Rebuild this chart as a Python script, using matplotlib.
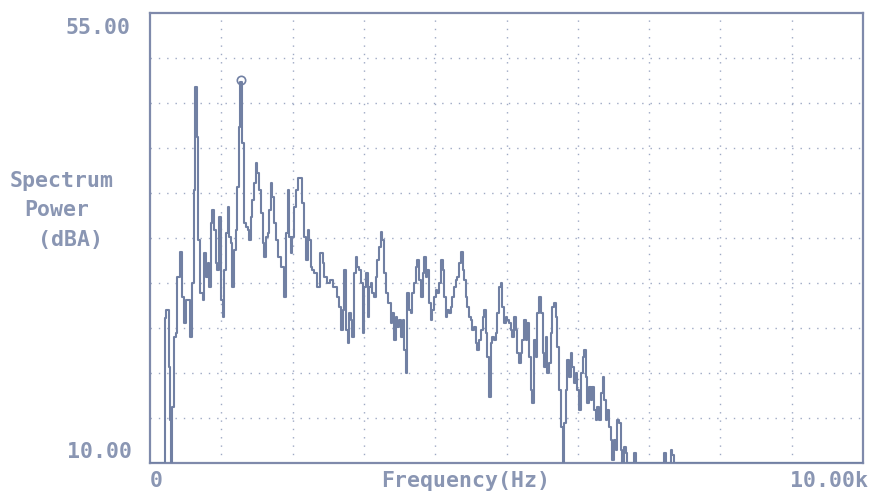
import matplotlib
matplotlib.use("Agg")
import matplotlib.pyplot as plt

# Frequency (Hz) and level (dBA)
freq_hz = [0, 200, 210, 243, 281, 290, 304, 327, 351, 374, 397, 431, 467, 491, 515, 551,
           585, 607, 631, 645, 663, 691, 725, 748, 771, 795, 818, 842, 865, 888, 912,
           935, 958, 982, 1006, 1028, 1052, 1076, 1098, 1122, 1146, 1168, 1192, 1216,
           1238, 1262, 1276, 1309, 1332, 1356, 1379, 1403, 1426, 1449, 1473, 1496,
           1519, 1543, 1567, 1589, 1613, 1637, 1659, 1683, 1707, 1729, 1753, 1777,
           1823, 1855, 1893, 1917, 1940, 1964, 1987, 2010, 2034, 2057, 2104, 2150,
           2174, 2198, 2220, 2244, 2268, 2290, 2314, 2360, 2408, 2431, 2454, 2501,
           2548, 2595, 2641, 2665, 2689, 2711, 2735, 2759, 2781, 2805, 2829, 2851,
           2875, 2899, 2921, 2945, 2969, 2992, 3015, 3039, 3062, 3086, 3109, 3132,
           3156, 3179, 3202, 3226, 3249, 3272, 3296, 3320, 3366, 3390, 3412, 3436,
           3460, 3482, 3506, 3530, 3553, 3576, 3600, 3623, 3647, 3670, 3693, 3717,
           3740, 3763, 3787, 3811, 3833, 3857, 3881, 3903, 3927, 3951, 3973, 3997,
           4021, 4043, 4067, 4091, 4114, 4137, 4161, 4184, 4208, 4231, 4254, 4278,
           4301, 4324, 4348, 4372, 4394, 4418, 4442, 4464, 4488, 4512, 4534, 4558,
           4582, 4604, 4628, 4652, 4675, 4698, 4722, 4745, 4769, 4792, 4815, 4839,
           4862, 4885, 4909, 4932, 4955, 4979, 5002, 5025, 5049, 5073, 5095, 5119,
           5143, 5165, 5189, 5213, 5235, 5259, 5283, 5306, 5330, 5353, 5376,
           5400, 5423, 5446, 5470, 5494, 5516, 5540, 5563, 5586, 5610, 5634, 5656,
           5680, 5704, 5726, 5750, 5774, 5797, 5820, 5844, 5867, 5890, 5914, 5937,
           5961, 5984, 6007, 6031, 6055, 6077, 6101, 6125, 6147, 6171, 6195, 6217,
           6241, 6265, 6287, 6311, 6335, 6358, 6381, 6405, 6428, 6451, 6475, 6498,
           6521, 6545, 6568, 6592, 6615, 6638, 6662, 6685, 6708, 6780, 6802, 6826,
           7200, 7223, 7247, 7295, 7317, 7339, 7363, 10000]

level_dba = [10.0, 10.0, 24.5, 25.3, 19.6, 14.3, 10.0, 15.6, 22.6, 23.0, 28.6, 31.1, 26.6,
             24.0, 26.3, 26.3, 22.6, 28.0, 37.3, 47.6, 42.6, 32.3, 27.0, 26.3, 31.0,
             28.6, 30.0, 27.6, 34.0, 35.3, 33.3, 30.0, 29.3, 34.6, 26.3, 24.6, 29.3,
             33.0, 35.6, 32.6, 32.0, 27.6, 31.3, 33.3, 37.6, 43.6, 48.1, 42.0, 34.0,
             33.6, 33.3, 32.3, 34.6, 36.3, 38.0, 40.0, 39.0, 37.3, 35.0, 32.0, 30.6,
             32.6, 33.0, 35.3, 38.0, 36.6, 34.0, 32.3,
             30.6, 29.6, 26.6, 33.0, 37.3, 32.6, 31.0, 32.6, 35.6, 37.3, 38.5, 36.0,
             32.6, 30.3, 33.3, 32.3, 29.6, 29.3, 29.0, 27.6, 31.0, 30.0, 28.6, 28.0,
             28.3, 27.6, 26.6, 25.6, 23.3, 25.3, 29.3, 23.3, 22.0, 25.0, 24.3, 22.6,
             29.0, 30.6, 29.6, 29.3, 28.0, 23.0, 27.6, 29.0, 24.6, 27.6, 28.0, 27.0,
             26.6, 28.6, 30.3, 31.6, 33.1, 32.3, 29.0, 27.0, 26.0, 24.0, 25.0, 22.3,
             24.6, 23.6, 24.3, 22.6, 24.3, 21.3, 19.0, 27.0,
             25.3, 25.0, 27.0, 28.0, 29.6, 30.3, 28.3, 26.6, 29.0, 30.6, 28.6, 29.3,
             26.0, 24.3, 25.3, 26.6, 27.3, 27.0, 28.0, 30.3, 29.3, 26.6, 24.6, 25.3,
             25.0, 25.6, 26.6, 27.6, 28.3, 28.6, 30.0, 31.1, 29.3, 28.3, 26.6, 25.6,
             24.6, 24.3, 23.3, 23.6, 22.0, 21.3, 22.3, 23.3, 24.6, 25.3, 23.0, 20.6,
             16.6, 22.0, 22.6, 22.3, 23.0, 25.0, 27.6, 28.0, 25.6, 24.0, 24.6, 24.3,
             24.0, 23.3, 22.6, 24.6, 23.3, 21.0, 20.0, 21.0, 22.3, 24.3, 22.3, 24.0,
             20.6, 17.3, 16.0,
             22.3, 20.6, 25.0, 26.6, 25.0, 21.0, 19.6, 22.6, 19.0, 20.0, 23.0, 25.6,
             26.0, 24.6, 21.6, 17.3, 13.6, 10.0, 14.0, 17.3, 20.3, 18.6, 21.0, 19.6,
             18.0, 19.0, 17.3, 15.3, 19.0, 20.6, 21.3, 18.6, 16.0, 17.6, 16.3, 17.6,
             15.3, 14.3, 15.6, 14.3, 17.0, 18.6, 16.3, 14.3, 15.3, 13.6, 12.3, 10.3,
             12.3, 11.3, 14.3, 14.0, 11.3, 10.0, 11.6, 11.0, 10.0, 10.0, 11.0, 10.0,
             10.0, 11.0, 10.0, 10.0, 11.3, 10.8, 10.0, 10.0]

marker_hz = [1276]
marker_dba = [48.3]

x_labels = ["0", "10.00k"]
y_labels = ["10.00", "55.00"]

TRACE = "#7180a3"
FRAME = "#7f8aab"
GRID = "#9ea9c4"
TEXT = "#8a96b3"

fig = plt.figure(figsize=(8.73, 4.96), dpi=100)
fig.patch.set_facecolor("white")
ax = fig.add_axes([150 / 873, 33 / 496, 713 / 873, 450 / 496])
ax.set_xlim(0, 10000)
ax.set_ylim(10, 55)

for xv in range(1000, 10000, 1000):
    ax.axvline(xv, color=GRID, lw=1.0, ls=(0, (1, 5)), zorder=1)
for i in range(1, 10):
    ax.axhline(10 + 4.5 * i, color=GRID, lw=1.0, ls=(0, (1, 5)), zorder=1)

ax.plot(freq_hz, level_dba, color=TRACE, lw=1.5, drawstyle="steps-mid", zorder=3)
ax.plot(marker_hz, marker_dba, marker="o", ms=6, mfc="none", mec=TRACE, mew=1.2,
        ls="none", zorder=4)

ax.set_xticks([])
ax.set_yticks([])
for s in ax.spines.values():
    s.set_color(FRAME)
    s.set_linewidth(1.6)

font = dict(family="DejaVu Sans Mono", fontweight="bold", fontsize=15.5, color=TEXT)
ax.text(-0.028, 0.967, y_labels[1], transform=ax.transAxes, ha="right", va="center", **font)
ax.text(-0.025, 0.024, y_labels[0], transform=ax.transAxes, ha="right", va="center", **font)
ax.text(0.0, -0.04, x_labels[0], transform=ax.transAxes, ha="left", va="center", **font)
ax.text(1.007, -0.04, x_labels[1], transform=ax.transAxes, ha="right", va="center", **font)
ax.text(0.442, -0.04, "Frequency(Hz)", transform=ax.transAxes, ha="center", va="center", **font)

fig.text(10 / 873, 1 - 181 / 496, "Spectrum", ha="left", va="center", **font)
fig.text(24 / 873, 1 - 210 / 496, "Power", ha="left", va="center", **font)
fig.text(38 / 873, 1 - 240 / 496, "(dBA)", ha="left", va="center", **font)

fig.savefig("out.png", dpi=100, facecolor="white")
